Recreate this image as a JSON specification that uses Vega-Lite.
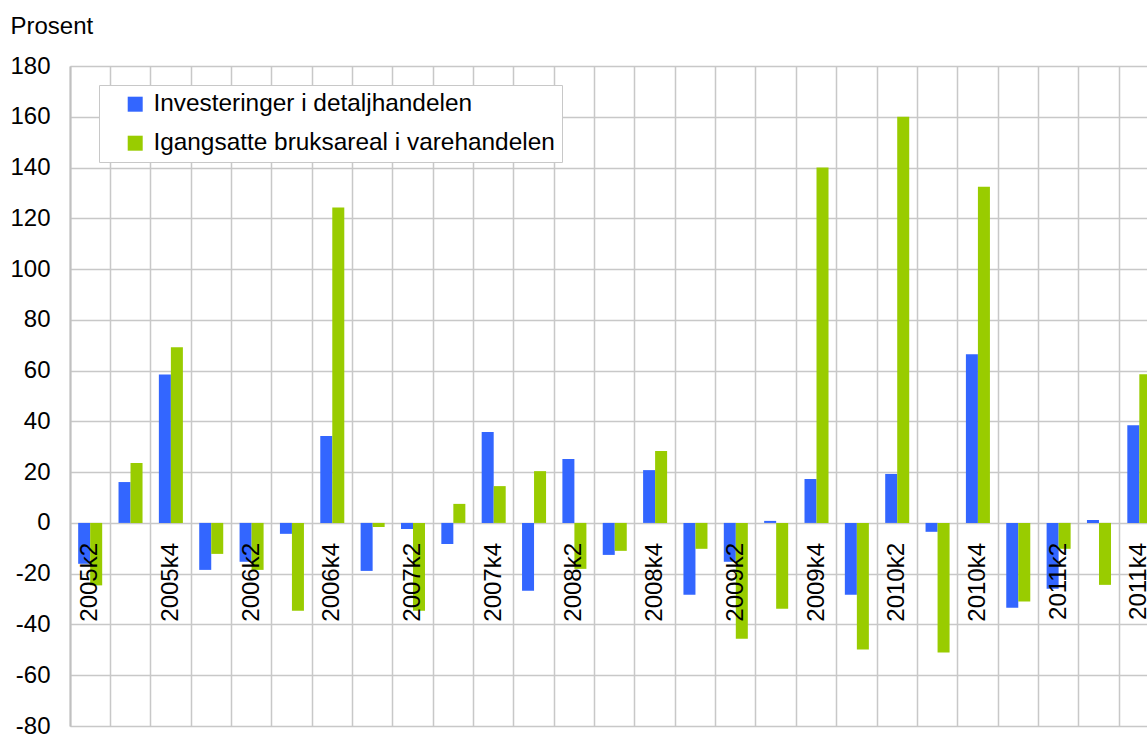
{
  "$schema": "https://vega.github.io/schema/vega-lite/v6.json",
  "autosize": "none",
  "padding": {"left": 70, "top": 66, "right": 0, "bottom": 10},
  "width": 1077,
  "height": 660,
  "background": "white",
  "config": {
    "font": "Liberation Sans",
    "view": {"stroke": null},
    "axis": {"labelFont": "Liberation Sans", "titleFont": "Liberation Sans"}
  },
  "data": {"values": [
    {"q": "2005k2", "s": "Investeringer i detaljhandelen", "v": -16.1},
    {"q": "2005k2", "s": "Igangsatte bruksareal i varehandelen", "v": -24.6},
    {"q": "2005k3", "s": "Investeringer i detaljhandelen", "v": 16.1},
    {"q": "2005k3", "s": "Igangsatte bruksareal i varehandelen", "v": 23.6},
    {"q": "2005k4", "s": "Investeringer i detaljhandelen", "v": 58.5},
    {"q": "2005k4", "s": "Igangsatte bruksareal i varehandelen", "v": 69.2},
    {"q": "2006k1", "s": "Investeringer i detaljhandelen", "v": -18.5},
    {"q": "2006k1", "s": "Igangsatte bruksareal i varehandelen", "v": -12.2},
    {"q": "2006k2", "s": "Investeringer i detaljhandelen", "v": -15.3},
    {"q": "2006k2", "s": "Igangsatte bruksareal i varehandelen", "v": -18.5},
    {"q": "2006k3", "s": "Investeringer i detaljhandelen", "v": -4.3},
    {"q": "2006k3", "s": "Igangsatte bruksareal i varehandelen", "v": -34.6},
    {"q": "2006k4", "s": "Investeringer i detaljhandelen", "v": 34.2},
    {"q": "2006k4", "s": "Igangsatte bruksareal i varehandelen", "v": 124.3},
    {"q": "2007k1", "s": "Investeringer i detaljhandelen", "v": -18.9},
    {"q": "2007k1", "s": "Igangsatte bruksareal i varehandelen", "v": -1.6},
    {"q": "2007k2", "s": "Investeringer i detaljhandelen", "v": -2.4},
    {"q": "2007k2", "s": "Igangsatte bruksareal i varehandelen", "v": -34.6},
    {"q": "2007k3", "s": "Investeringer i detaljhandelen", "v": -8.3},
    {"q": "2007k3", "s": "Igangsatte bruksareal i varehandelen", "v": 7.5},
    {"q": "2007k4", "s": "Investeringer i detaljhandelen", "v": 35.8},
    {"q": "2007k4", "s": "Igangsatte bruksareal i varehandelen", "v": 14.5},
    {"q": "2008k1", "s": "Investeringer i detaljhandelen", "v": -26.7},
    {"q": "2008k1", "s": "Igangsatte bruksareal i varehandelen", "v": 20.4},
    {"q": "2008k2", "s": "Investeringer i detaljhandelen", "v": 25.2},
    {"q": "2008k2", "s": "Igangsatte bruksareal i varehandelen", "v": -18.1},
    {"q": "2008k3", "s": "Investeringer i detaljhandelen", "v": -12.6},
    {"q": "2008k3", "s": "Igangsatte bruksareal i varehandelen", "v": -11.0},
    {"q": "2008k4", "s": "Investeringer i detaljhandelen", "v": 20.8},
    {"q": "2008k4", "s": "Igangsatte bruksareal i varehandelen", "v": 28.3},
    {"q": "2009k1", "s": "Investeringer i detaljhandelen", "v": -28.3},
    {"q": "2009k1", "s": "Igangsatte bruksareal i varehandelen", "v": -10.2},
    {"q": "2009k2", "s": "Investeringer i detaljhandelen", "v": -15.3},
    {"q": "2009k2", "s": "Igangsatte bruksareal i varehandelen", "v": -45.6},
    {"q": "2009k3", "s": "Investeringer i detaljhandelen", "v": 0.8},
    {"q": "2009k3", "s": "Igangsatte bruksareal i varehandelen", "v": -33.8},
    {"q": "2009k4", "s": "Investeringer i detaljhandelen", "v": 17.3},
    {"q": "2009k4", "s": "Igangsatte bruksareal i varehandelen", "v": 140},
    {"q": "2010k1", "s": "Investeringer i detaljhandelen", "v": -28.3},
    {"q": "2010k1", "s": "Igangsatte bruksareal i varehandelen", "v": -49.9},
    {"q": "2010k2", "s": "Investeringer i detaljhandelen", "v": 19.3},
    {"q": "2010k2", "s": "Igangsatte bruksareal i varehandelen", "v": 160},
    {"q": "2010k3", "s": "Investeringer i detaljhandelen", "v": -3.5},
    {"q": "2010k3", "s": "Igangsatte bruksareal i varehandelen", "v": -51.0},
    {"q": "2010k4", "s": "Investeringer i detaljhandelen", "v": 66.4},
    {"q": "2010k4", "s": "Igangsatte bruksareal i varehandelen", "v": 132.4},
    {"q": "2011k1", "s": "Investeringer i detaljhandelen", "v": -33.4},
    {"q": "2011k1", "s": "Igangsatte bruksareal i varehandelen", "v": -31.0},
    {"q": "2011k2", "s": "Investeringer i detaljhandelen", "v": -25.9},
    {"q": "2011k2", "s": "Igangsatte bruksareal i varehandelen", "v": -10.2},
    {"q": "2011k3", "s": "Investeringer i detaljhandelen", "v": 1.2},
    {"q": "2011k3", "s": "Igangsatte bruksareal i varehandelen", "v": -24.4},
    {"q": "2011k4", "s": "Investeringer i detaljhandelen", "v": 38.5},
    {"q": "2011k4", "s": "Igangsatte bruksareal i varehandelen", "v": 58.6}
  ]},
  "encoding": {
    "x": {
      "field": "q", "type": "nominal", "sort": null,
      "scale": {"range": [0, 1089.5], "paddingInner": 0, "paddingOuter": 0},
      "axis": {
        "title": null, "labels": false, "ticks": false, "domain": false,
        "grid": true, "bandPosition": 0, "gridColor": "#c8c8c8", "gridWidth": 1.5
      }
    }
  },
  "layer": [
    {
      "mark": {"type": "bar", "clip": true},
      "encoding": {
        "y": {
          "field": "v", "type": "quantitative",
          "scale": {"domain": [-80, 180], "nice": false, "zero": false},
          "axis": {
            "values": [-80, -60, -40, -20, 0, 20, 40, 60, 80, 100, 120, 140, 160, 180],
            "labelExpr": "toString(datum.value)",
            "title": "Prosent", "titleAngle": 0, "titleAlign": "left", "titleBaseline": "alphabetic",
            "titleX": -60, "titleY": -33, "titleFontSize": 24, "titleFontWeight": "normal", "titleColor": "#000",
            "labelFontSize": 24, "labelColor": "#000", "labelPadding": 20,
            "ticks": false, "domain": true, "domainColor": "#c0c0c0", "domainWidth": 2,
            "grid": true, "gridColor": "#c8c8c8", "gridWidth": 1.5
          }
        },
        "xOffset": {
          "field": "s", "type": "nominal",
          "sort": ["Investeringer i detaljhandelen", "Igangsatte bruksareal i varehandelen"],
          "scale": {"paddingOuter": 0.68, "paddingInner": 0}
        },
        "color": {
          "field": "s", "type": "nominal",
          "scale": {
            "domain": ["Investeringer i detaljhandelen", "Igangsatte bruksareal i varehandelen"],
            "range": ["#3366FF", "#99CC00"]
          },
          "legend": {
            "title": null, "orient": "none", "legendX": 29, "legendY": 19,
            "direction": "vertical",
            "strokeColor": "#c8c8c8", "fillColor": "white", "padding": 7,
            "symbolType": "square", "symbolSize": 225, "symbolStrokeWidth": 0, "symbolOffset": 17,
            "labelFontSize": 24.4, "labelColor": "#000", "labelOffset": 6, "labelLimit": 700,
            "labelExpr": "datum.label + '     '",
            "rowPadding": 14
          }
        }
      }
    },
    {
      "transform": [
        {"filter": "datum.s == 'Investeringer i detaljhandelen' && (indexof(datum.q, 'k2') >= 0 || indexof(datum.q, 'k4') >= 0)"}
      ],
      "mark": {"type": "text", "angle": 270, "align": "right", "baseline": "middle", "dx": -20, "fontSize": 24, "color": "#000", "clip": true},
      "encoding": {
        "y": {"datum": 0, "type": "quantitative"},
        "text": {"field": "q", "type": "nominal"}
      }
    }
  ]
}
